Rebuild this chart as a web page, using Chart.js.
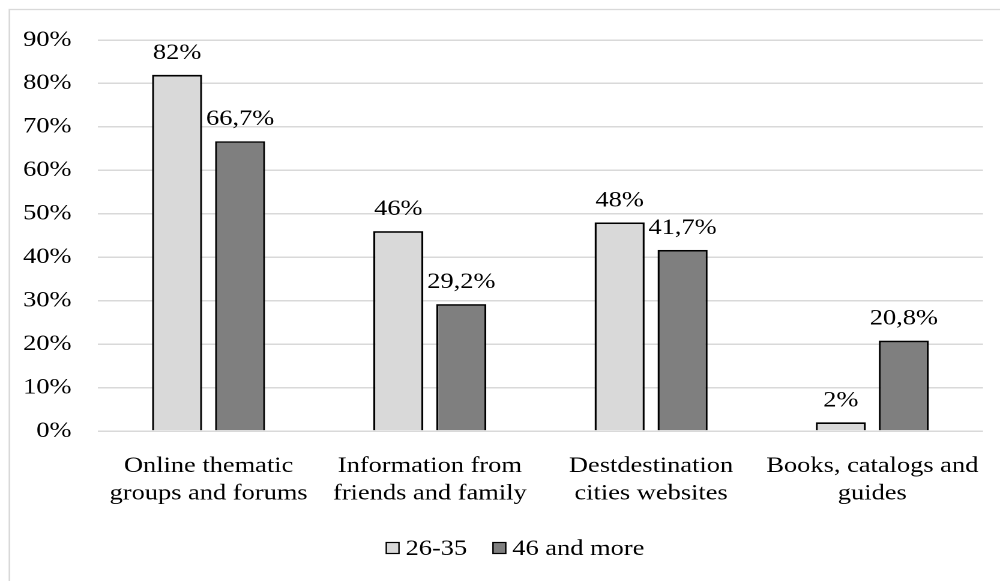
<!DOCTYPE html>
<html>
<head>
<meta charset="utf-8">
<script src="https://cdn.jsdelivr.net/npm/chart.js@4.4.1/dist/chart.umd.min.js"></script>
<style>
  html, body { margin: 0; padding: 0; background: #ffffff; overflow: hidden; }
  /* The drawing surface is laid out 833 units wide and shown 1000px wide,
     giving the wide serif lettering of the original layout. */
  #chart { display: block; width: 1000px; height: 581px; }
</style>
</head>
<body>
<canvas id="chart" width="833" height="581" style="width:1000px;height:581px"></canvas>
<script>
// Information sources used, by age group (share of respondents, %)
const categories = [
  ['Online thematic', 'groups and forums'],
  ['Information from', 'friends and family'],
  ['Destdestination', 'cities websites'],
  ['Books, catalogs and', 'guides']
];
const seriesNames = ['26-35', '46 and more'];
const youngValues = [82, 46, 48, 2];
const olderValues = [66.7, 29.2, 41.7, 20.8];
const yTicks = [0, 10, 20, 30, 40, 50, 60, 70, 80, 90];

const FONT = '"Liberation Serif", "Times New Roman", serif';
const FONT_SIZE = 22;
const fillColors = ['#d9d9d9', '#7f7f7f'];

const fmt = v => String(v).replace('.', ',') + '%';

// Outer frame of the chart
const framePlugin = {
  id: 'frame',
  beforeDraw(chart) {
    const ctx = chart.ctx;
    ctx.save();
    ctx.fillStyle = '#ffffff';
    ctx.fillRect(0, 0, chart.width, chart.height);
    ctx.strokeStyle = '#d9d9d9';
    ctx.lineWidth = 1.3;
    ctx.strokeRect(7.8, 9.5, chart.width + 20, chart.height + 20);
    ctx.restore();
  }
};

// Value labels above each bar
const valueLabels = {
  id: 'valueLabels',
  afterDatasetsDraw(chart) {
    const ctx = chart.ctx;
    ctx.save();
    ctx.font = FONT_SIZE + 'px ' + FONT;
    ctx.fillStyle = '#000000';
    ctx.textAlign = 'center';
    ctx.textBaseline = 'alphabetic';
    chart.data.datasets.forEach((ds, di) => {
      chart.getDatasetMeta(di).data.forEach((bar, i) => {
        ctx.fillText(fmt(ds.data[i]), bar.x, bar.y - 16);
      });
    });
    ctx.restore();
  }
};

// Legend row under the category labels
const bottomLegend = {
  id: 'bottomLegend',
  afterDraw(chart) {
    const ctx = chart.ctx;
    ctx.save();
    ctx.font = FONT_SIZE + 'px ' + FONT;
    ctx.textBaseline = 'middle';
    ctx.textAlign = 'left';
    const box = 11.6, boxH = 12, boxGap = 5, itemGap = 21;
    const widths = seriesNames.map(n => box + boxGap + ctx.measureText(n).width);
    const total = widths.reduce((a, b) => a + b, 0) + itemGap * (seriesNames.length - 1);
    let x = 429 - total / 2;
    const y = 548;
    seriesNames.forEach((name, i) => {
      ctx.fillStyle = fillColors[i];
      ctx.fillRect(x, y - boxH / 2, box, boxH);
      ctx.strokeStyle = '#000000';
      ctx.lineWidth = 1.2;
      ctx.strokeRect(x + 0.5, y - boxH / 2 + 0.5, box - 1, boxH - 1);
      ctx.fillStyle = '#000000';
      ctx.fillText(name, x + box + boxGap, y + 1);
      x += widths[i] + itemGap;
    });
    ctx.restore();
  }
};

new Chart(document.getElementById('chart'), {
  type: 'bar',
  data: {
    labels: categories,
    datasets: [
      { label: seriesNames[0], data: youngValues, backgroundColor: fillColors[0],
        borderColor: '#000000', borderWidth: 1.7, borderSkipped: 'start' },
      { label: seriesNames[1], data: olderValues, backgroundColor: fillColors[1],
        borderColor: '#000000', borderWidth: 1.7, borderSkipped: 'start' }
    ]
  },
  options: {
    responsive: false,
    animation: false,
    devicePixelRatio: 2,
    layout: { padding: { left: 0, right: 14.2, top: 40, bottom: 60 } },
    datasets: { bar: { categoryPercentage: 0.5695, barPercentage: 0.794 } },
    plugins: {
      legend: { display: false },
      tooltip: { enabled: false }
    },
    scales: {
      x: {
        grid: { display: false, drawTicks: false },
        border: { display: false },
        ticks: {
          color: '#000000',
          font: { family: FONT, size: FONT_SIZE, lineHeight: 1.27 },
          padding: 21,
          maxRotation: 0,
          autoSkip: false
        },
        afterFit(scale) {
          scale.height = 90;
          scale.paddingLeft = 0;
          scale.paddingRight = 0;
        }
      },
      y: {
        min: 0,
        max: 90,
        afterBuildTicks(scale) { scale.ticks = yTicks.map(v => ({ value: v })); },
        grid: { color: '#d9d9d9', lineWidth: 1.5, drawTicks: false },
        border: { display: false },
        ticks: {
          color: '#000000',
          font: { family: FONT, size: FONT_SIZE },
          padding: 22,
          callback: v => v + '%'
        },
        afterFit(scale) {
          scale.width = 81.6;
          scale.paddingTop = 0;
          scale.paddingBottom = 0;
        }
      }
    }
  },
  plugins: [framePlugin, valueLabels, bottomLegend]
});
</script>
</body>
</html>
